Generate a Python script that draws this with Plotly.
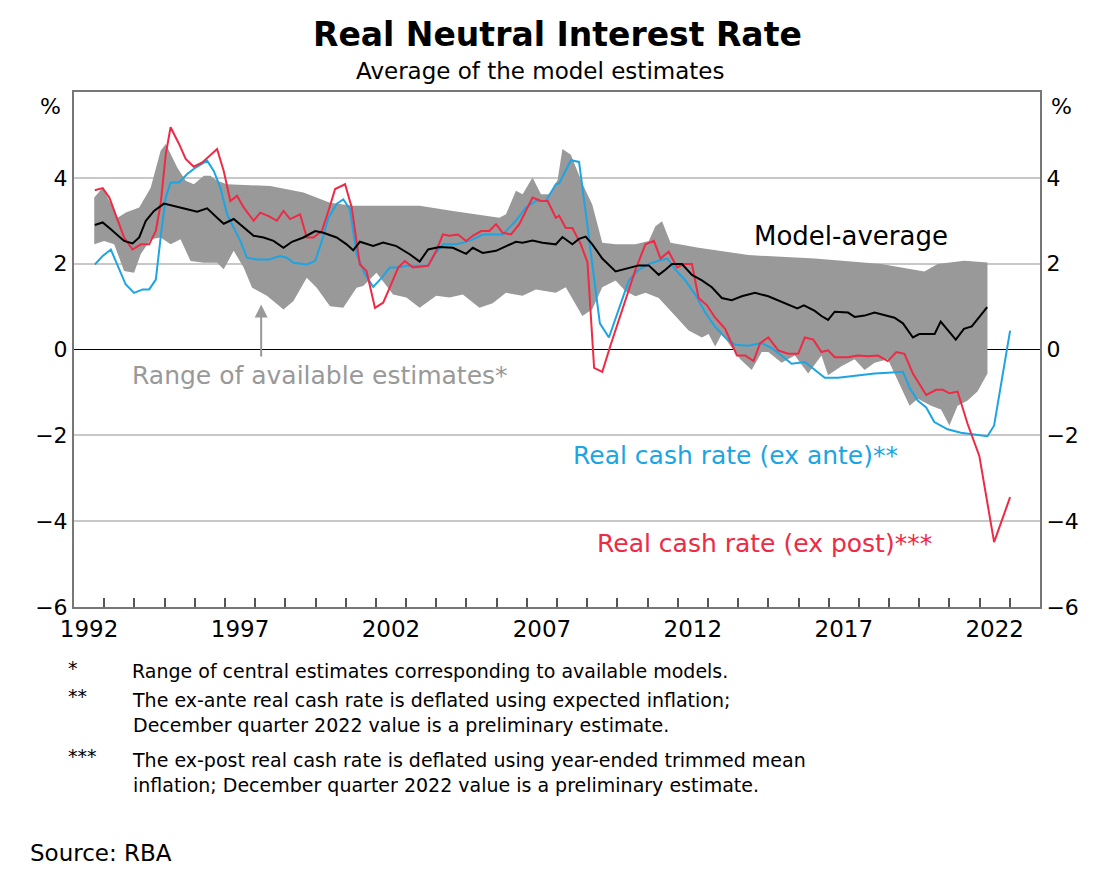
import plotly.graph_objects as go

# Model-average
avg_x = [1992.69, 1992.95, 1993.22, 1993.66, 1993.94, 1994.16, 1994.38, 1994.65, 1994.98, 1995.31, 1995.75, 1996.08, 1996.41, 1996.74, 1996.96,
         1997.29, 1997.62, 1997.95, 1998.28, 1998.61, 1998.94, 1999.22, 1999.60, 1999.99, 2000.26, 2000.70, 2001.03, 2001.25, 2001.47, 2001.91,
         2002.24, 2002.68, 2003.12, 2003.45, 2003.73, 2004.11, 2004.55, 2004.99, 2005.21, 2005.54, 2005.98, 2006.31, 2006.64, 2006.86, 2007.19,
         2007.52, 2007.96, 2008.18, 2008.51, 2008.73, 2008.95, 2009.17, 2009.50, 2009.94, 2010.44, 2010.71, 2011.04, 2011.37, 2011.59, 2011.81,
         2012.14, 2012.47, 2012.80, 2013.13, 2013.46, 2013.79, 2014.12, 2014.56, 2015.00, 2015.44, 2015.74, 2015.96, 2016.18, 2016.54, 2016.76,
         2016.98, 2017.20, 2017.64, 2017.86, 2018.19, 2018.52, 2018.86, 2019.18, 2019.46, 2019.79, 2020.00, 2020.24, 2020.51, 2020.71, 2021.21,
         2021.48, 2021.74, 2022.25]
avg_y = [2.90, 2.96, 2.80, 2.53, 2.47, 2.61, 3.00, 3.23, 3.40, 3.35, 3.27, 3.21, 3.29, 3.07, 2.93,
         3.04, 2.84, 2.65, 2.61, 2.53, 2.37, 2.51, 2.61, 2.76, 2.72, 2.61, 2.45, 2.31, 2.51, 2.41,
         2.49, 2.41, 2.22, 2.05, 2.33, 2.39, 2.37, 2.23, 2.37, 2.25, 2.30, 2.41, 2.51, 2.49, 2.54,
         2.49, 2.45, 2.62, 2.45, 2.58, 2.63, 2.45, 2.12, 1.82, 1.91, 1.96, 1.96, 1.74, 1.86, 1.99,
         1.99, 1.74, 1.61, 1.45, 1.20, 1.15, 1.24, 1.32, 1.24, 1.11, 1.01, 0.96, 1.03, 0.90, 0.78,
         0.69, 0.88, 0.86, 0.76, 0.79, 0.86, 0.79, 0.74, 0.61, 0.28, 0.36, 0.36, 0.36, 0.65, 0.23,
         0.48, 0.54, 0.99]

# Real cash rate (ex post)
post_x = [1992.69, 1992.95, 1993.17, 1993.44, 1993.66, 1993.94, 1994.21, 1994.49, 1994.71, 1994.87, 1995.04, 1995.20, 1995.48, 1995.70,
          1995.97, 1996.25, 1996.47, 1996.74, 1996.96, 1997.18, 1997.40, 1997.62, 1997.95, 1998.17, 1998.45, 1998.72, 1998.94, 1999.16,
          1999.49, 1999.71, 1999.93, 2000.21, 2000.43, 2000.65, 2000.98, 2001.20, 2001.47, 2001.69, 2001.97, 2002.24, 2002.46, 2002.74,
          2002.96, 2003.23, 2003.73, 2004.00, 2004.22, 2004.44, 2004.72, 2004.99, 2005.21, 2005.49, 2005.76, 2005.98, 2006.20, 2006.48,
          2006.75, 2007.19, 2007.47, 2007.69, 2007.96, 2008.07, 2008.29, 2008.51, 2008.79, 2009.01, 2009.23, 2009.50, 2009.78, 2010.05,
          2010.33, 2010.60, 2010.93, 2011.21, 2011.43, 2011.70, 2011.98, 2012.20, 2012.47, 2012.69, 2012.97, 2013.24, 2013.57, 2013.96,
          2014.23, 2014.51, 2014.73, 2015.00, 2015.33, 2015.66, 2015.99, 2016.21, 2016.49, 2016.76, 2016.98, 2017.20, 2017.64, 2017.97,
          2018.30, 2018.63, 2018.96, 2019.24, 2019.51, 2019.79, 2020.23, 2020.56, 2020.78, 2021.00, 2021.27, 2021.60, 2021.99, 2022.48,
          2023.01]
post_y = [3.71, 3.76, 3.54, 3.00, 2.61, 2.33, 2.45, 2.45, 2.76, 3.39, 4.55, 5.18, 4.79, 4.44,
          4.26, 4.36, 4.51, 4.67, 4.16, 3.46, 3.58, 3.31, 3.00, 3.19, 3.11, 3.00, 3.23, 3.04,
          3.15, 2.61, 2.61, 2.76, 3.23, 3.74, 3.85, 3.31, 1.98, 1.83, 0.97, 1.09, 1.44, 1.91,
          2.06, 1.91, 1.95, 2.30, 2.68, 2.65, 2.68, 2.53, 2.65, 2.76, 2.76, 2.92, 2.72, 2.68,
          2.92, 3.54, 3.46, 3.46, 3.07, 3.12, 2.83, 2.83, 2.45, 2.03, -0.43, -0.52, 0.11, 0.69,
          1.28, 1.86, 2.45, 2.53, 2.12, 2.28, 1.91, 1.99, 1.99, 1.20, 1.03, 0.74, 0.48, -0.14,
          -0.14, -0.27, 0.15, 0.28, -0.02, -0.10, -0.10, 0.28, 0.23, -0.06, -0.02, -0.18, -0.18, -0.14,
          -0.16, -0.14, -0.27, -0.06, -0.10, -0.56, -1.06, -0.94, -0.94, -1.02, -0.98, -1.73, -2.48, -4.49,
          -3.44]

# Real cash rate (ex ante)
ante_x = [1992.69, 1992.95, 1993.22, 1993.49, 1993.71, 1993.99, 1994.27, 1994.49, 1994.71, 1994.87, 1995.04, 1995.20, 1995.48, 1995.75,
          1996.03, 1996.41, 1996.63, 1996.85, 1997.07, 1997.29, 1997.51, 1997.73, 1998.06, 1998.45, 1998.83, 1999.05, 1999.27, 1999.71,
          1999.99, 2000.21, 2000.43, 2000.70, 2000.92, 2001.14, 2001.36, 2001.64, 2001.91, 2002.19, 2002.46, 2002.74, 2003.01, 2003.34,
          2003.73, 2003.95, 2004.22, 2004.66, 2005.10, 2005.54, 2006.20, 2006.64, 2006.97, 2007.30, 2007.63, 2007.96, 2008.07, 2008.46,
          2008.73, 2008.95, 2009.17, 2009.42, 2009.72, 2010.05, 2010.38, 2010.71, 2011.04, 2011.37, 2011.65, 2011.92, 2012.25, 2012.58,
          2012.91, 2013.24, 2013.57, 2013.90, 2014.34, 2014.78, 2015.11, 2015.44, 2015.77, 2016.21, 2016.54, 2016.87, 2017.31, 2017.97,
          2018.52, 2018.96, 2019.46, 2019.68, 2019.95, 2020.23, 2020.50, 2020.94, 2021.38, 2021.82, 2022.26, 2022.48, 2023.01]
ante_y = [1.98, 2.18, 2.33, 1.87, 1.52, 1.32, 1.40, 1.40, 1.63, 2.61, 3.54, 3.89, 3.89, 4.09,
          4.24, 4.40, 4.16, 3.77, 3.15, 2.84, 2.53, 2.14, 2.10, 2.10, 2.18, 2.14, 2.02, 1.98,
          2.06, 2.53, 3.07, 3.39, 3.50, 3.27, 2.22, 1.75, 1.46, 1.67, 1.91, 1.91, 1.95, 1.95,
          1.95, 2.22, 2.45, 2.45, 2.53, 2.68, 2.68, 3.00, 3.31, 3.46, 3.46, 3.85, 3.87, 4.41,
          4.37, 3.20, 1.95, 0.61, 0.28, 0.94, 1.61, 1.86, 1.99, 2.07, 2.12, 1.86, 1.61, 1.28,
          0.86, 0.53, 0.28, 0.11, 0.09, 0.15, 0.03, -0.14, -0.33, -0.29, -0.48, -0.66, -0.66, -0.60,
          -0.56, -0.54, -0.52, -0.89, -1.19, -1.35, -1.69, -1.86, -1.94, -1.98, -2.02, -1.77, 0.44]

# Range of available estimates (upper and lower edges)
hi_x = [1992.67, 1992.95, 1993.17, 1993.44, 1993.72, 1994.16, 1994.54, 1994.87, 1995.04, 1995.20, 1995.42, 1995.70, 1995.97, 1996.30,
        1996.52, 1996.74, 1997.07, 1998.50, 1999.60, 2000.48, 2001.25, 2002.35, 2003.45, 2004.55, 2006.09, 2006.31, 2006.64, 2006.86,
        2007.19, 2007.47, 2007.74, 2008.02, 2008.18, 2008.46, 2008.84, 2009.17, 2009.50, 2009.94, 2010.60, 2011.04, 2011.26, 2011.48,
        2011.76, 2012.69, 2014.34, 2016.54, 2018.74, 2020.17, 2020.61, 2021.49, 2022.26]
hi_y = [3.54, 3.77, 3.46, 3.07, 3.19, 3.31, 3.77, 4.63, 4.79, 4.55, 4.24, 3.93, 3.85, 4.05,
        4.05, 3.93, 3.85, 3.81, 3.66, 3.42, 3.35, 3.35, 3.35, 3.23, 3.07, 3.15, 3.70, 3.62,
        4.01, 3.62, 3.62, 3.95, 4.67, 4.54, 3.87, 3.37, 2.49, 2.45, 2.45, 2.53, 2.87, 2.99,
        2.49, 2.37, 2.20, 2.12, 1.99, 1.82, 1.99, 2.07, 2.03]
lo_x = [1992.67, 1993.00, 1993.33, 1993.66, 1993.99, 1994.21, 1994.54, 1994.87, 1995.20, 1995.53, 1995.86, 1996.30, 1996.74, 1996.96,
        1997.29, 1997.62, 1997.90, 1998.39, 1998.94, 1999.27, 1999.71, 2000.04, 2000.48, 2000.92, 2001.36, 2001.58, 2002.02, 2002.57,
        2003.01, 2003.45, 2004.00, 2004.44, 2004.88, 2005.43, 2005.87, 2006.31, 2006.86, 2007.30, 2007.96, 2008.29, 2008.84, 2009.17,
        2009.50, 2009.94, 2010.27, 2010.60, 2010.93, 2011.37, 2011.92, 2012.36, 2012.80, 2013.02, 2013.24, 2013.46, 2013.79, 2014.07,
        2014.45, 2014.78, 2015.00, 2015.44, 2015.88, 2016.32, 2016.76, 2016.98, 2017.42, 2017.86, 2018.19, 2018.52, 2018.96, 2019.68,
        2019.95, 2020.39, 2020.72, 2021.00, 2021.27, 2021.60, 2021.93, 2022.26]
lo_y = [2.45, 2.53, 2.45, 1.83, 1.79, 2.22, 2.57, 2.61, 2.45, 2.57, 2.06, 2.02, 2.02, 1.87,
        2.30, 1.91, 1.44, 1.25, 0.93, 1.13, 1.67, 1.44, 1.01, 0.97, 1.44, 1.48, 1.79, 1.28,
        1.21, 0.97, 1.25, 1.21, 1.28, 0.97, 1.08, 1.32, 1.25, 1.40, 1.32, 1.45, 0.78, 0.94,
        1.45, 1.61, 1.36, 1.24, 1.32, 1.20, 0.78, 0.44, 0.28, 0.36, 0.07, 0.36, 0.03, -0.23,
        -0.48, -0.06, -0.06, -0.31, -0.14, -0.56, -0.14, -0.60, -0.39, -0.23, -0.48, -0.31, -0.23, -1.31,
        -1.15, -1.31, -1.40, -1.77, -1.31, -1.19, -0.98, -0.56]

year_labels = [str(y) for y in range(1992, 2023, 5)]
y_ticks = [-6, -4, -2, 0, 2, 4]

RED = "#ee2a45"
BLUE = "#1ca5e2"
GREY = "#999999"
font = "DejaVu Sans, sans-serif"

# plot area in pixels
L, R, T, B = 66, 1032, 84, 599


def px(x, y):
    return (x - L) / (R - L), (B - y) / (B - T)


fig = go.Figure()
fig.add_trace(go.Scatter(x=hi_x + lo_x[::-1], y=hi_y + lo_y[::-1], fill="toself",
                         fillcolor=GREY, line=dict(width=0), mode="lines", hoverinfo="skip"))
fig.add_trace(go.Scatter(x=ante_x, y=ante_y, mode="lines", line=dict(color=BLUE, width=2)))
fig.add_trace(go.Scatter(x=post_x, y=post_y, mode="lines", line=dict(color=RED, width=2)))
fig.add_trace(go.Scatter(x=avg_x, y=avg_y, mode="lines", line=dict(color="black", width=2)))
fig.add_trace(go.Scatter(x=[None], y=[None], yaxis="y2", showlegend=False))

yax = dict(range=[-6, 6], tickvals=y_ticks, ticks="", showgrid=True, gridcolor="#c8c8c8", gridwidth=1.5,
           zeroline=True, zerolinecolor="black", zerolinewidth=1.2,
           showline=True, linecolor="#777777", linewidth=2, tickfont=dict(size=22, color="black"))

fig.update_layout(
    width=1098, height=876, showlegend=False,
    paper_bgcolor="white", plot_bgcolor="white",
    margin=dict(l=L, r=1098 - R, t=T, b=876 - B, autoexpand=False),
    font=dict(family=font, color="black"),
    xaxis=dict(range=[1992, 2024], tickvals=[int(y) + 0.5 for y in year_labels], ticktext=year_labels,
               ticks="", showgrid=False, zeroline=False, showline=True, mirror=True,
               linecolor="#777777", linewidth=2, tickfont=dict(size=23, color="black"),
               minor=dict(tickvals=list(range(1993, 2024)), ticks="inside", ticklen=9,
                          tickcolor="#555555", tickwidth=2, showgrid=False)),
    yaxis=yax,
    yaxis2=dict(yax, overlaying="y", side="right", showgrid=False),
)

labels = [
    (549, 26, "<b>Real Neutral Interest Rate</b>", 33, "black", "center"),
    (532, 63, "Average of the model estimates", 23, "black", "center"),
    (42, 98, "%", 22, "black", "center"),
    (1053, 98, "%", 22, "black", "center"),
    (843, 228, "Model-average", 26, "black", "center"),
    (312, 367, "Range of available estimates*", 25, GREY, "center"),
    (727, 447, "Real cash rate (ex ante)**", 25, BLUE, "center"),
    (756, 535, "Real cash rate (ex post)***", 25, RED, "center"),
    (58, 660, "*", 19, "black", "left"),
    (122, 663, "Range of central estimates corresponding to available models.", 19, "black", "left"),
    (58, 688, "**", 19, "black", "left"),
    (122, 704, "The ex-ante real cash rate is deflated using expected inflation;<br>December quarter 2022 value is a preliminary estimate.", 19, "black", "left"),
    (58, 748, "***", 19, "black", "left"),
    (122, 764, "The ex-post real cash rate is deflated using year-ended trimmed mean<br>inflation; December quarter 2022 value is a preliminary estimate.", 19, "black", "left"),
    (20, 845, "Source: RBA", 23, "black", "left"),
]
for x, y, t, s, c, anchor in labels:
    xp, yp = px(x, y)
    fig.add_annotation(x=xp, y=yp, xref="paper", yref="paper", text=t, showarrow=False,
                       align="left", xanchor=anchor, yanchor="middle",
                       font=dict(size=s, color=c, family=font))

fig.add_annotation(x=1998.2, y=1.05, ax=1998.2, ay=-0.2, xref="x", yref="y", axref="x", ayref="y",
                   text="", showarrow=True, arrowhead=2, arrowsize=1.3, arrowwidth=2, arrowcolor=GREY)

fig.write_html("out.html")
